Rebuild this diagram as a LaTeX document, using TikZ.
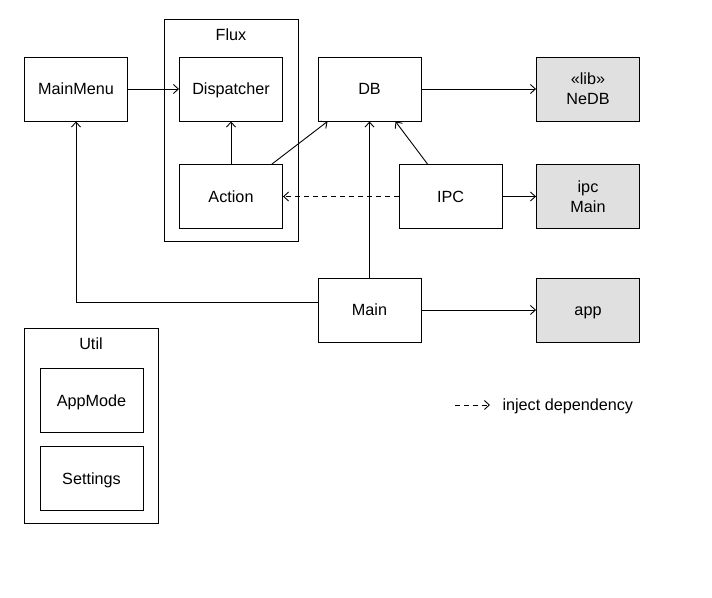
\documentclass[tikz,border=0pt]{standalone}
\usepackage{fontspec}
\setmainfont{Liberation Sans}
\usetikzlibrary{arrows.meta}
\definecolor{libgray}{HTML}{E0E0E0}
\tikzset{
    box/.style={draw, line width=0.9pt, minimum width=103pt, minimum height=64pt, inner sep=0pt,
        text height=11.6pt, text depth=0pt},
    libbox/.style={box, fill=libgray},
    stackbox/.style={libbox, align=center, text height=, text depth=},
    group/.style={draw, line width=0.9pt, inner sep=0pt},
    dep/.style={line width=0.9pt, -{Straight Barb[length=5pt,width=9pt]}},
    inject/.style={dep, dashed, dash pattern=on 5pt off 4pt}
}
\begin{document}
\begin{tikzpicture}[x=1pt, y=-1pt, font=\fontsize{16.2}{20}\selectfont]
    \useasboundingbox (0,0) rectangle (712,597);
    % Containers
    \node[group, minimum width=134pt, minimum height=222pt] (flux) at (231,130) {};
    \node (fluxlabel) at (231,35) {Flux};
    \node[group, minimum width=134pt, minimum height=195pt] (util) at (91,425.5) {};
    \node (utillabel) at (91,344) {Util};

    % Modules
    \node[box] (mainmenu) at (76,89) {MainMenu};
    \node[box] (dispatcher) at (231,89) {Dispatcher};
    \node[box] (action) at (231,196.5) {Action};
    \node[box] (db) at (369.5,89) {DB};
    \node[box] (ipc) at (450.5,196.5) {IPC};
    \node[box] (main) at (369.5,310) {Main};
    \node[box] (appmode) at (91.5,400.5) {AppMode};
    \node[box] (settings) at (91.5,478.5) {Settings};

    % External libraries
    \node[stackbox] (nedb) at (588,89) {«lib»\\NeDB};
    \node[stackbox] (ipcmain) at (588,196.5) {ipc\\Main};
    \node[libbox] (app) at (588,310) {app};

    % Dependencies
    \draw[dep] (mainmenu) -- (dispatcher);
    \draw[dep] (action) -- (dispatcher);
    \draw[dep] ([xshift=-11pt]action.north east) -- ([xshift=10pt]db.south west);
    \draw[dep] (main) -- (db);
    \draw[dep] ([xshift=-23pt]ipc.north) -- ([xshift=26pt]db.south);
    \draw[dep] (db) -- (nedb);
    \draw[dep] (ipc) -- (ipcmain);
    \draw[dep] (main) -- (app);
    \draw[dep] ([yshift=8pt]main.west) -| (mainmenu.south);
    \draw[inject] (ipc) -- (action);

    % Legend
    \coordinate (legstart) at (455,405);
    \coordinate (legend) at (490,405);
    \draw[inject] (legstart) -- (legend);
    \node[anchor=west] (legtext) at (499,406) {inject dependency};
\end{tikzpicture}
\end{document}
